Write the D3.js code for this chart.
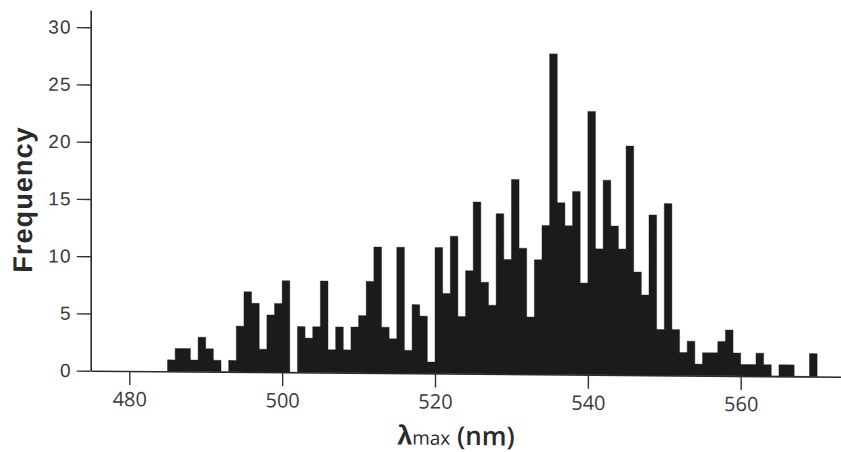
<!DOCTYPE html>
<html>
<head>
<meta charset="utf-8">
<script src="https://cdn.jsdelivr.net/npm/d3@7"></script>
<style>
  html, body { margin: 0; padding: 0; background: #fff; }
  svg { display: block; }
</style>
</head>
<body>
<svg id="chart" width="841" height="452"></svg>
<script>
// ---- data (1-nm bins, bin start wavelength) ----
const binStart = 485;
const frequency = [
  1, 2, 2, 1, 3, 2, 1, 0, 1, 4,      // 485-494
  7, 6, 2, 5, 6, 8, 0, 4, 3, 4,      // 495-504
  8, 2, 4, 2, 4, 5, 8, 11, 4, 3,     // 505-514
  11, 2, 6, 5, 1, 11, 7, 12, 5, 9,   // 515-524
  15, 8, 6, 14, 10, 17, 11, 5, 10, 13, // 525-534
  28, 15, 13, 16, 8, 23, 11, 17, 13, 11, // 535-544
  20, 9, 7, 14, 4, 15, 4, 2, 3, 1,   // 545-554
  2, 2, 3, 4, 2, 1, 1, 2, 1, 0,      // 555-564
  1, 1, 0, 0, 2                      // 565-569
];
const xTicks = [480, 500, 520, 540, 560];
const yTicks = [0, 5, 10, 15, 20, 25, 30];
const xLabel = "λ";
const xLabelSub = "max";
const xLabelUnit = " (nm)";
const yLabel = "Frequency";

const bins = frequency.map((v, i) => ({ x0: binStart + i, v }));
// step points: each bin start, plus closing point at the end of the last bin
const steps = bins.concat([{ x0: binStart + frequency.length, v: 0 }]);

// ---- layout ----
const svg = d3.select("#chart");
const ox = 90.7, oy = 370.7;
const root = svg.append("g")
  .attr("transform", `translate(${ox},${oy}) skewY(0.46) translate(${-ox},${-oy})`);

const xBase = d3.scaleLinear().domain([480, 560]).range([129.3, 740.7]);
const x = xBase.copy().domain([475, 573.2]).range([xBase(475), xBase(573.2)]);
const y = d3.scaleLinear().domain([0, 31.5]).range([oy, 10.1]);

// histogram bars as one solid stepped area (bars touch, no seams)
const area = d3.area()
  .curve(d3.curveStepAfter)
  .x(d => x(d.x0))
  .y0(y(0))
  .y1(d => y(d.v));
root.append("path")
  .datum(steps)
  .attr("d", area)
  .attr("fill", "#1b1b1b")
  .attr("stroke", "#1b1b1b")
  .attr("stroke-width", 0.4);

// x axis
const xAxis = root.append("g")
  .attr("transform", `translate(0,${oy})`)
  .call(d3.axisBottom(x).tickValues(xTicks).tickSize(14).tickSizeOuter(0).tickPadding(7));
xAxis.select(".domain").attr("stroke", "#2a2a2a").attr("stroke-width", 1.6);
xAxis.selectAll(".tick line").attr("stroke", "#333").attr("stroke-width", 1.4);
xAxis.selectAll(".tick text")
  .attr("fill", "#3a3a3a")
  .style("font-family", "'Open Sans', 'Liberation Sans', sans-serif")
  .style("font-size", "20px");

// y axis
const yAxis = root.append("g")
  .attr("transform", `translate(${ox},0)`)
  .call(d3.axisLeft(y).tickValues(yTicks).tickSize(14).tickSizeOuter(0).tickPadding(5));
yAxis.select(".domain").attr("stroke", "#2a2a2a").attr("stroke-width", 1.6);
yAxis.selectAll(".tick line").attr("stroke", "#333").attr("stroke-width", 1.4);
yAxis.selectAll(".tick text")
  .attr("fill", "#3a3a3a")
  .style("font-family", "'Liberation Sans', Arial, sans-serif")
  .style("font-size", "19px")
  .style("letter-spacing", "1.2px");

// y label
root.append("text")
  .attr("transform", `translate(32,200) rotate(-90)`)
  .attr("text-anchor", "middle")
  .attr("fill", "#2a2a2a")
  .style("font-family", "'Liberation Sans', Arial, sans-serif")
  .style("font-weight", "bold")
  .style("font-size", "27px")
  .style("letter-spacing", "1.1px")
  .text(yLabel);

// x label
const xl = root.append("text")
  .attr("x", 456)
  .attr("y", 442)
  .attr("text-anchor", "middle")
  .attr("fill", "#2a2a2a");
xl.append("tspan")
  .style("font-family", "'Liberation Sans', Arial, sans-serif")
  .style("font-weight", "bold")
  .style("font-size", "27px")
  .text(xLabel);
xl.append("tspan")
  .style("font-family", "'Open Sans', sans-serif")
  .style("font-size", "19px")
  .text(xLabelSub);
xl.append("tspan")
  .style("font-family", "'Open Sans', sans-serif")
  .style("font-weight", "600")
  .style("font-size", "26px")
  .text(xLabelUnit);
</script>
</body>
</html>
